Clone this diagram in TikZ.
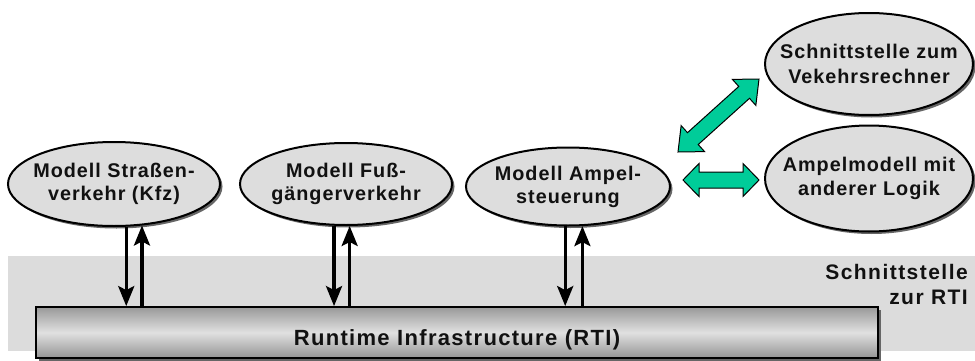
\documentclass[tikz,border=0pt]{standalone}
\usepackage{fontspec}
\setmainfont{Liberation Sans}
\newfontfamily\ellfont{Liberation Sans}[LetterSpace=5]
\newfontfamily\rtifont{Liberation Sans}[LetterSpace=6]
\newfontfamily\lblfont{Liberation Sans}[LetterSpace=7]
\usetikzlibrary{shapes.geometric,arrows.meta,calc,shadows}
\definecolor{bandgray}{HTML}{DCDCDC}
\definecolor{ellgray}{HTML}{DDDDDD}
\definecolor{txtcol}{HTML}{111111}
\definecolor{tealgreen}{HTML}{00CC99}
\tikzset{
  eshadow/.style={general shadow={shadow xshift=2.5pt,shadow yshift=-2.5pt,fill=black!60}},
  ell/.style={ellipse,draw=black,line width=2pt,fill=ellgray,inner sep=0pt,eshadow},
  etext/.style={font={\ellfont\bfseries\fontsize{19.8}{23}\selectfont},text=txtcol,align=center,inner sep=0pt},
  etextb/.style={etext,font={\ellfont\bfseries\fontsize{19.8}{24.5}\selectfont}},
  rtibox/.style={draw=black,line width=1.8pt,inner sep=0pt,
    top color=black!40,bottom color=black!42,middle color=black!12,eshadow},
  rtitext/.style={font={\rtifont\bfseries\fontsize{22}{26}\selectfont},text=txtcol,inner sep=0pt},
  lbltext/.style={font={\lblfont\bfseries\fontsize{21}{25}\selectfont},text=txtcol,align=right,inner sep=0pt},
  varrow/.style={line width=3.4pt,draw=black,-{Stealth[length=20pt,width=16pt,inset=4pt]}},
  garrow/.style={draw=black,line width=1pt,fill=tealgreen,line join=miter}
}
\newcommand{\dblarrow}[5]{%
  \draw[garrow] let \p1=(#1), \p2=(#2),
    \n1={atan2(\y2-\y1,\x2-\x1)}, \n2={veclen(\x2-\x1,\y2-\y1)} in
    [shift={(\p1)},rotate=\n1]
    (0,0) -- (#3,#4) -- (#3,#5) -- ({\n2-#3},#5) -- ({\n2-#3},#4) -- (\n2,0)
    -- ({\n2-#3},-#4) -- ({\n2-#3},-#5) -- (#3,-#5) -- (#3,-#4) -- cycle;}
\begin{document}
\begin{tikzpicture}[x=1pt,y=1pt]
\path[use as bounding box] (0,0) rectangle (975,360);
\clip (0,0) rectangle (975,360);
% background band
\fill[bandgray] (8,9) rectangle (975,104);
% RTI box
\node[rtibox,minimum width=842pt,minimum height=51pt] (rti) at (457,27.5) {};
\node[rtitext,anchor=base] (rtit) at (457,15) {Runtime Infrastructure (RTI)};
% label
\node[lbltext,anchor=north east] (lbl) at (968,95.5) {Schnittstelle\\zur RTI};
% ellipses
\node[ell,minimum width=212pt,minimum height=84pt] (e1) at (114,176) {};
\node[etext] (t1) at (e1) {Modell Straßen-\\verkehr (Kfz)};
\node[ell,minimum width=212pt,minimum height=82pt] (e2) at (346,176) {};
\node[etext] (t2) at (e2) {Modell Fuß-\\gängerverkehr};
\node[ell,minimum width=204pt,minimum height=78pt] (e3) at (568,173.5) {};
\node[etext] (t3) at (e3) {Modell Ampel-\\steuerung};
\node[ell,minimum width=208pt,minimum height=102pt] (e4) at (869,296) {};
\node[etextb] (t4) at (e4) {Schnittstelle zum\\Vekehrsrechner};
\node[ell,minimum width=208pt,minimum height=106pt] (e5) at (869,181.5) {};
\node[etextb] (t5) at (e5) {Ampelmodell mit\\anderer Logik};
% vertical arrows
\draw[varrow] (e1.-74) -- (e1.-74 |- rti.north);
\draw[varrow] (e1.-56.4 |- rti.north) -- (e1.-56.4);
\draw[varrow] (e2.-106.2) -- (e2.-106.2 |- rti.north);
\draw[varrow] (e2.-85.8 |- rti.north) -- (e2.-85.8);
\draw[varrow] (e3.-94.4) -- (e3.-94.4 |- rti.north);
\draw[varrow] (e3.-70.1 |- rti.north) -- (e3.-70.1);
% green double arrows
\coordinate (ga1) at (678,208);
\coordinate (gb1) at (759,281);
\coordinate (ga2) at (683,180);
\coordinate (gb2) at (759,180);
\dblarrow{ga1}{gb1}{20}{17.5}{8}
\dblarrow{ga2}{gb2}{16}{16.5}{8}
\end{tikzpicture}
\end{document}
